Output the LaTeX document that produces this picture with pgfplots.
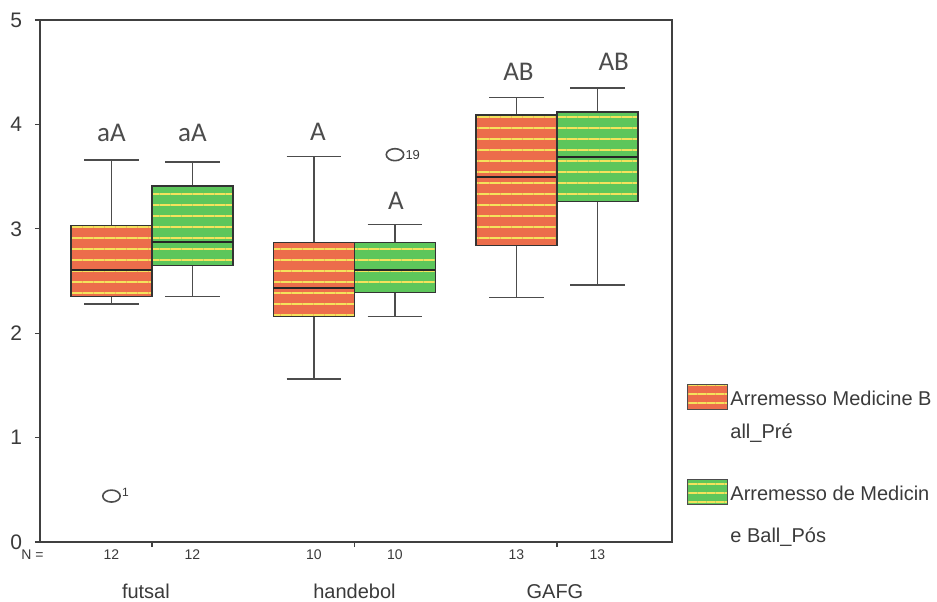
\documentclass[border=0pt]{standalone}
\usepackage{pgfplots}
\pgfplotsset{compat=1.18}
\usepgfplotslibrary{statistics}
\usetikzlibrary{patterns.meta}
\usepackage{fontspec}
\setmainfont{Liberation Sans}
\newfontfamily\lettfont{Carlito}
\definecolor{pre}{HTML}{EC6D4B}
\definecolor{pos}{HTML}{5DC65B}
\definecolor{stripe}{HTML}{F4E25C}
\definecolor{txt}{HTML}{3A3A3A}
\pgfplotsset{
  commonbox/.style={draw=black!80, line width=0.6pt, solid,
    mark=o, mark size=3pt,
    mark options={xscale=1.45, draw=black!70, fill=none, line width=0.8pt},
    boxplot/every median/.style={line width=1pt, draw=black!85},
    boxplot/every whisker/.style={draw=black!70, line width=0.7pt}},
  prebox/.style={commonbox,
    boxplot/every box/.style={fill=pre,
      postaction={pattern={Lines[angle=0,distance=5.5pt,line width=1.3pt]}, pattern color=stripe},
      postaction={draw=black!80, line width=0.7pt}}},
  posbox/.style={commonbox,
    boxplot/every box/.style={fill=pos,
      postaction={pattern={Lines[angle=0,distance=5.5pt,line width=1.3pt]}, pattern color=stripe},
      postaction={draw=black!80, line width=0.7pt}}},
}
\begin{document}
\begin{tikzpicture}
\useasboundingbox (-20pt,-29.5pt) rectangle (448.5pt,271pt);
\begin{axis}[
  scale only axis, width=316pt, height=261pt,
  xmin=0.447, xmax=3.568, ymin=0, ymax=5,
  ytick={0,1,2,3,4,5}, xtick={1,2,3}, xticklabels={,,},
  tick align=outside, tick pos=left, major tick length=2.5pt,
  axis line style={draw=black!75, line width=0.6pt},
  every tick/.style={black!75, line width=0.6pt},
  /pgf/number format/assume math mode=true,
  yticklabel style={font=\fontsize{10.5}{12}\selectfont, text=txt, xshift=-3pt},
  clip=false,
  boxplot/draw direction=y,
  boxplot/box extend=0.4, boxplot/whisker extend=0.27,
]
% futsal
\addplot[prebox, boxplot prepared={draw position=0.8, lower whisker=2.28, lower quartile=2.35, median=2.61, upper quartile=3.03, upper whisker=3.66}] coordinates {(0,0.44)};
\addplot[posbox, boxplot prepared={draw position=1.2, lower whisker=2.35, lower quartile=2.65, median=2.87, upper quartile=3.41, upper whisker=3.64}] coordinates {};
% handebol
\addplot[prebox, boxplot prepared={draw position=1.8, lower whisker=1.56, lower quartile=2.16, median=2.43, upper quartile=2.87, upper whisker=3.69}] coordinates {};
\addplot[posbox, boxplot prepared={draw position=2.2, lower whisker=2.16, lower quartile=2.39, median=2.61, upper quartile=2.87, upper whisker=3.04}] coordinates {(0,3.71)};
% GAFG
\addplot[prebox, boxplot prepared={draw position=2.8, lower whisker=2.34, lower quartile=2.84, median=3.50, upper quartile=4.09, upper whisker=4.26}] coordinates {};
\addplot[posbox, boxplot prepared={draw position=3.2, lower whisker=2.46, lower quartile=3.26, median=3.69, upper quartile=4.12, upper whisker=4.35}] coordinates {};

% outlier labels
\node[font=\fontsize{6}{7}\selectfont, text=txt, anchor=west, inner sep=0pt] at (axis cs:0.85,0.48) {1};
\node[font=\fontsize{6.5}{7}\selectfont, text=txt, anchor=west, inner sep=0pt] at (axis cs:2.25,3.71) {19};

% letters
\begin{scope}[every node/.style={font=\lettfont\fontsize{13.5}{14}\selectfont, text=black!70}]
\node at (axis cs:0.8,3.92) {aA};
\node at (axis cs:1.2,3.92) {aA};
\node at (axis cs:1.82,3.93) {A};
\node at (axis cs:2.205,3.27) {A};
\node at (axis cs:2.81,4.5) {AB};
\node at (axis cs:3.28,4.6) {AB};
\end{scope}

% N counts and group names
\begin{scope}[every node/.style={font=\fontsize{7}{8}\selectfont, text=txt, anchor=base}]
\node at ([yshift=-8.5pt]rel axis cs:-0.012,0) {N =};
\node at ([yshift=-8.5pt]axis cs:0.8,0) {12};
\node at ([yshift=-8.5pt]axis cs:1.2,0) {12};
\node at ([yshift=-8.5pt]axis cs:1.8,0) {10};
\node at ([yshift=-8.5pt]axis cs:2.2,0) {10};
\node at ([yshift=-8.5pt]axis cs:2.8,0) {13};
\node at ([yshift=-8.5pt]axis cs:3.2,0) {13};
\end{scope}
\begin{scope}[every node/.style={font=\fontsize{10}{12}\selectfont, text=txt, anchor=base}]
\node at ([yshift=-28pt]axis cs:0.97,0) {futsal};
\node at ([yshift=-28pt]axis cs:2.0,0) {handebol};
\node at ([yshift=-28pt]axis cs:2.99,0) {GAFG};
\end{scope}

% legend
\path[fill=pre, postaction={pattern={Lines[angle=0,distance=4.5pt,line width=1pt]}, pattern color=stripe}, postaction={draw=black!70, line width=0.5pt}]
  (rel axis cs:1.0253,0.2529) rectangle (rel axis cs:1.0886,0.3008);
\path[fill=pos, postaction={pattern={Lines[angle=0,distance=4.5pt,line width=1pt]}, pattern color=stripe}, postaction={draw=black!70, line width=0.5pt}]
  (rel axis cs:1.0253,0.0709) rectangle (rel axis cs:1.0886,0.1188);
\begin{scope}[every node/.style={font=\fontsize{10}{12}\selectfont, text=txt, anchor=west, inner sep=0pt}]
\node at (rel axis cs:1.0918,0.2759) {Arremesso Medicine B};
\node at (rel axis cs:1.0918,0.2088) {all\_Pré};
\node at (rel axis cs:1.0918,0.0939) {Arremesso de Medicin};
\node at (rel axis cs:1.0918,0.0096) {e Ball\_Pós};
\end{scope}
\end{axis}
\end{tikzpicture}
\end{document}
